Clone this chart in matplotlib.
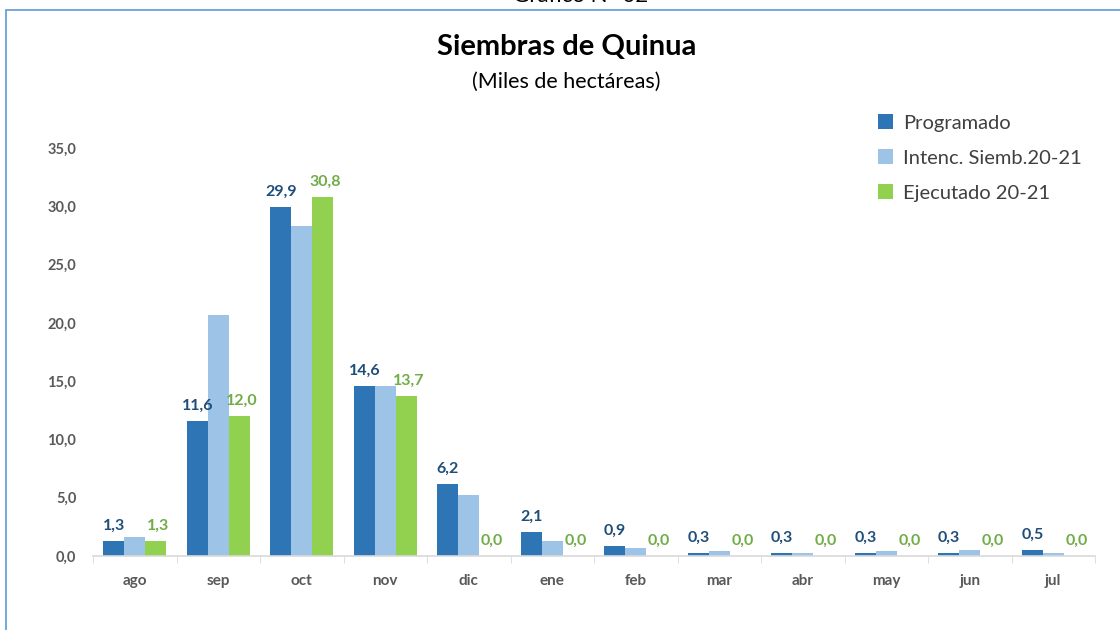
import matplotlib
matplotlib.use("Agg")
import matplotlib.pyplot as plt
import numpy as np
from matplotlib.patches import Rectangle

months = ["ago", "sep", "oct", "nov", "dic", "ene", "feb", "mar", "abr", "may", "jun", "jul"]
programado = [1.3, 11.6, 29.9, 14.6, 6.2, 2.1, 0.9, 0.3, 0.3, 0.3, 0.3, 0.5]
intencion = [1.6, 20.7, 28.3, 14.6, 5.2, 1.3, 0.7, 0.4, 0.3, 0.4, 0.5, 0.3]
ejecutado = [1.3, 12.0, 30.8, 13.7, 0.0, 0.0, 0.0, 0.0, 0.0, 0.0, 0.0, 0.0]
series_names = ["Programado", "Intenc. Siemb.20-21", "Ejecutado 20-21"]
yticks = [0, 5, 10, 15, 20, 25, 30, 35]

plt.rcParams['font.family'] = ['Lato', 'DejaVu Sans']

c_prog = "#2E75B6"
c_int = "#9DC3E6"
c_eje = "#92D050"
c_lab_prog = "#1F4E79"
c_lab_eje = "#70AD47"

fig = plt.figure(figsize=(11.2, 6.3), dpi=100)
ax = fig.add_axes([93/1120, 74/630, 1002/1120, 408/630])

x = np.arange(len(months))
w = 0.25
b1 = ax.bar(x - w, programado, w, color=c_prog, label=series_names[0])
b2 = ax.bar(x, intencion, w, color=c_int, label=series_names[1])
b3 = ax.bar(x + w, ejecutado, w, color=c_eje, label=series_names[2])

def fmt(v):
    return f"{v:.1f}".replace(".", ",")

for xi, v in zip(x, programado):
    ax.text(xi - w, v + 0.7, fmt(v), ha='center', va='bottom', fontsize=11.5,
            fontweight='bold', color=c_lab_prog)
for xi, v in zip(x, ejecutado):
    ax.text(xi + w + 0.03, v + 0.7, fmt(v), ha='center', va='bottom', fontsize=11.5,
            fontweight='bold', color=c_lab_eje)

ax.set_xlim(-0.5, len(months) - 0.5)
ax.set_ylim(0, 35)
ax.set_yticks(yticks)
ax.set_yticklabels([fmt(t) for t in yticks], fontsize=10.5, fontweight='bold', color="#595959")
ax.set_xticks(x)
ax.set_xticklabels(months, fontsize=11, fontweight='bold', color="#595959")
ax.set_xticks(np.arange(-0.5, len(months)), minor=True)
ax.tick_params(axis='x', which='major', length=0, pad=13)
ax.tick_params(axis='x', which='minor', length=5, color="#D9D9D9", direction='out')
ax.tick_params(axis='y', length=0, pad=12)
for s in ["top", "right", "left"]:
    ax.spines[s].set_visible(False)
ax.spines["bottom"].set_color("#D9D9D9")
ax.spines["bottom"].set_linewidth(1.2)

leg = fig.legend(handles=[b1, b2, b3], labels=series_names,
                 loc='upper left', bbox_to_anchor=(860/1120, 1 - 96/630),
                 frameon=False, fontsize=14.5, handlelength=0.75, handleheight=0.75,
                 handletextpad=0.5, labelspacing=0.88, labelcolor="#404040")

fig.text(0.506, 1 - 47/630, "Siembras de Quinua", ha='center', va='center',
         fontsize=21, fontweight='bold', color="#000000")
fig.text(0.506, 1 - 82/630, "(Miles de hectáreas)", ha='center', va='center',
         fontsize=15.5, color="#000000")
fig.text(0.518, 1 - 2/630, "Gráfico N° 02", ha='center', va='baseline',
         fontsize=16, color="#000000")

fig.patches.append(Rectangle((6/1120, -0.1), 1.2, 1 - 10/630 + 0.1,
                             transform=fig.transFigure, fill=False,
                             edgecolor="#5B9BD5", linewidth=1.2))

fig.savefig("out.png", dpi=100)
